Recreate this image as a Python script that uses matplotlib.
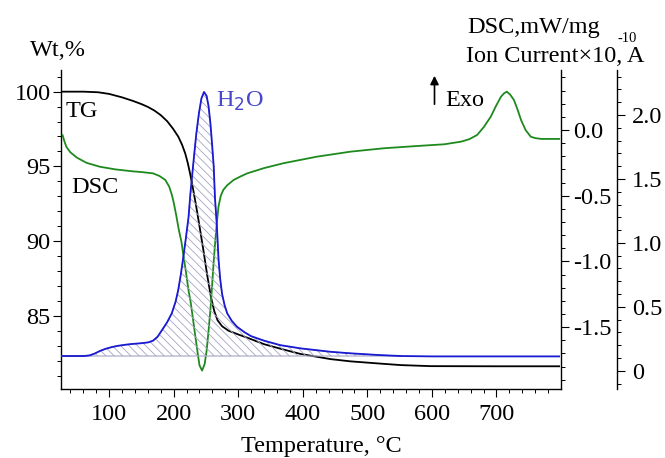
import matplotlib
matplotlib.use("Agg")
import matplotlib.pyplot as plt
import numpy as np
from matplotlib.ticker import MultipleLocator, FuncFormatter

plt.rcParams['font.family'] = ['Liberation Serif', 'DejaVu Serif']
plt.rcParams['axes.unicode_minus'] = False
plt.rcParams['hatch.linewidth'] = 0.6

# ---- data ----
tg_T = [27, 60, 83, 100, 120, 137, 150, 160, 170, 180, 190, 199, 207, 213, 218, 222, 226,
        230, 235, 240, 246, 252, 258, 263, 268, 275, 285, 300, 316, 340, 365, 396, 443, 474,
        520, 552, 598, 700, 797]
tg_W = [100.0, 100.0, 99.96, 99.85, 99.62, 99.38, 99.17, 98.98, 98.74, 98.43, 98.02, 97.52,
        97.0, 96.45, 95.85, 95.2, 94.4, 93.5, 92.3, 91.0, 89.4, 87.7, 86.2, 85.3, 84.7, 84.3,
        84.0, 83.75, 83.5, 83.1, 82.8, 82.45, 82.1, 81.95, 81.8, 81.7, 81.63, 81.62, 81.62]

dsc_T = [28, 31, 34, 40, 50, 65, 86, 110, 137, 150, 168, 178, 187, 193, 197, 200, 204, 208,
         212, 215, 219, 223, 226, 230, 233, 237, 240, 244, 248, 251, 254, 257, 259, 262, 264.5,
         267, 269.5, 273, 277, 283, 293, 303, 314, 340, 370, 422, 474, 526, 577, 619, 645, 658,
         670, 680, 691, 700, 707, 712, 716, 721, 727, 733, 738, 745, 753, 760, 769, 797]
dsc_D = [-0.04, -0.09, -0.13, -0.17, -0.21, -0.25, -0.28, -0.30, -0.315, -0.32, -0.33, -0.35,
         -0.38, -0.43, -0.49, -0.55, -0.65, -0.76, -0.85, -0.95, -1.08, -1.22, -1.30, -1.44,
         -1.55, -1.69, -1.79, -1.83, -1.78, -1.68, -1.53, -1.36, -1.22, -1.0, -0.84, -0.70,
         -0.58, -0.50, -0.455, -0.42, -0.38, -0.355, -0.33, -0.29, -0.253, -0.203, -0.165,
         -0.139, -0.122, -0.109, -0.089, -0.07, -0.038, 0.02, 0.10, 0.19, 0.253, 0.28, 0.291,
         0.27, 0.228, 0.15, 0.076, 0.0, -0.051, -0.062, -0.068, -0.068]

ion_T = [26, 61, 70, 78, 86, 95, 105, 114, 125, 135, 150, 161, 168, 175, 182, 190, 197, 203,
         207, 211, 215, 219, 223, 226, 231, 235, 239, 243, 247, 251, 254, 257, 259.5, 262, 264,
         267, 269.5, 272, 275, 279, 283, 290, 298, 310, 320, 340, 365, 396, 443, 474, 520, 552,
         600, 797]
ion_I = [0.115, 0.115, 0.12, 0.135, 0.155, 0.172, 0.186, 0.195, 0.203, 0.209, 0.215, 0.222,
         0.235, 0.265, 0.318, 0.38, 0.448, 0.54, 0.63, 0.75, 0.89, 1.04, 1.2, 1.39, 1.65, 1.85,
         2.01, 2.13, 2.18, 2.15, 2.07, 1.93, 1.77, 1.6, 1.35, 1.125, 0.87, 0.72, 0.6, 0.51,
         0.448, 0.39, 0.344, 0.30, 0.27, 0.235, 0.2, 0.175, 0.148, 0.136, 0.122, 0.115, 0.112,
         0.112]
ion_base = 0.115

x_ticks = [100, 200, 300, 400, 500, 600, 700]

# ---- figure ----
W, H = 665, 458
fig = plt.figure(figsize=(W / 100, H / 100), dpi=100)
L, R, B, T = 61, 561, 389, 70
ax = fig.add_axes([L / W, 1 - B / H, (R - L) / W, (B - T) / H])
ax2 = ax.twinx()
ax3 = ax.twinx()

green = '#1e8a1e'
blue = '#1a1ad2'
FS = 17.5

ax.plot(tg_T, tg_W, color='black', lw=1.3)
ax2.plot(dsc_T, dsc_D, color=green, lw=1.3)
ion_T_a = np.array(ion_T, float)
ion_I_a = np.array(ion_I, float)
ax3.fill_between(ion_T_a, ion_I_a, ion_base, where=ion_I_a >= ion_base, interpolate=True,
                 facecolor='none', edgecolor='#a4a4c4', hatch='\\\\\\\\', linewidth=0.8)
ax3.plot(ion_T, ion_I, color=blue, lw=1.3)

ax.set_xlim(25.5, 799.9)
ax.set_ylim(80.1, 101.45)
ax2.set_ylim(-1.97, 0.456)
ax3.set_ylim(-0.143, 2.352)

ax.set_xticks(x_ticks)
ax.xaxis.set_minor_locator(MultipleLocator(20))
ax.yaxis.set_major_locator(MultipleLocator(5))
ax.yaxis.set_minor_locator(MultipleLocator(1))
ax2.yaxis.set_major_locator(MultipleLocator(0.5))
ax2.yaxis.set_minor_locator(MultipleLocator(0.1))
ax3.yaxis.set_major_locator(MultipleLocator(0.5))
ax3.yaxis.set_minor_locator(MultipleLocator(0.1))
ax2.yaxis.set_major_formatter(FuncFormatter(lambda v, p: f'{v:.1f}'.replace('-0.0', '0.0')))
ax3.yaxis.set_major_formatter(FuncFormatter(lambda v, p: '0' if abs(v) < 1e-9 else f'{v:.1f}'))

for a in (ax, ax2, ax3):
    a.spines['top'].set_visible(False)
    for s in a.spines.values():
        s.set_linewidth(1.0)
    a.tick_params(which='major', direction='out', length=5.5, width=0.8, labelsize=FS)
    a.tick_params(which='minor', direction='out', length=3, width=0.7)
ax.spines['right'].set_visible(False)
ax2.spines['left'].set_visible(False)
ax3.spines['left'].set_visible(False)
ax3.spines['bottom'].set_visible(False)
ax2.spines['bottom'].set_visible(False)
ax3.spines['right'].set_position(('outward', 40.5))
ax.tick_params(axis='x', pad=5)
ax.tick_params(axis='y', pad=2)
ax2.tick_params(axis='y', pad=3)
ax3.tick_params(axis='y', pad=5)

ax.set_xlabel('Temperature, °C', fontsize=FS, labelpad=8)
ax.xaxis.label.set_x((321.5 - L) / (R - L))

def ftxt(x, y, s, **kw):
    fig.text(x / W, 1 - y / H, s, va='baseline', **kw)

ftxt(30, 56, 'Wt,%', fontsize=FS)
ftxt(66, 117, 'TG', fontsize=FS)
ftxt(71, 193, 'DSC', fontsize=FS)
ftxt(216, 107, 'H$_2$O', fontsize=FS, color='#4848c8')
ftxt(445, 106, 'Exo', fontsize=FS)
ftxt(467, 33, 'DSC,mW/mg', fontsize=FS)
ftxt(466, 62, 'Ion Current×10, A', fontsize=FS)
ftxt(617, 42, '-10', fontsize=10.5)
fig.add_artist(matplotlib.patches.FancyArrowPatch(
    (434.5 / W, 1 - 107 / H), (434.5 / W, 1 - 73 / H), transform=fig.transFigure,
    arrowstyle='-|>,head_length=5,head_width=2.5', color='black', lw=1.2))

fig.savefig('out.png', dpi=100)
